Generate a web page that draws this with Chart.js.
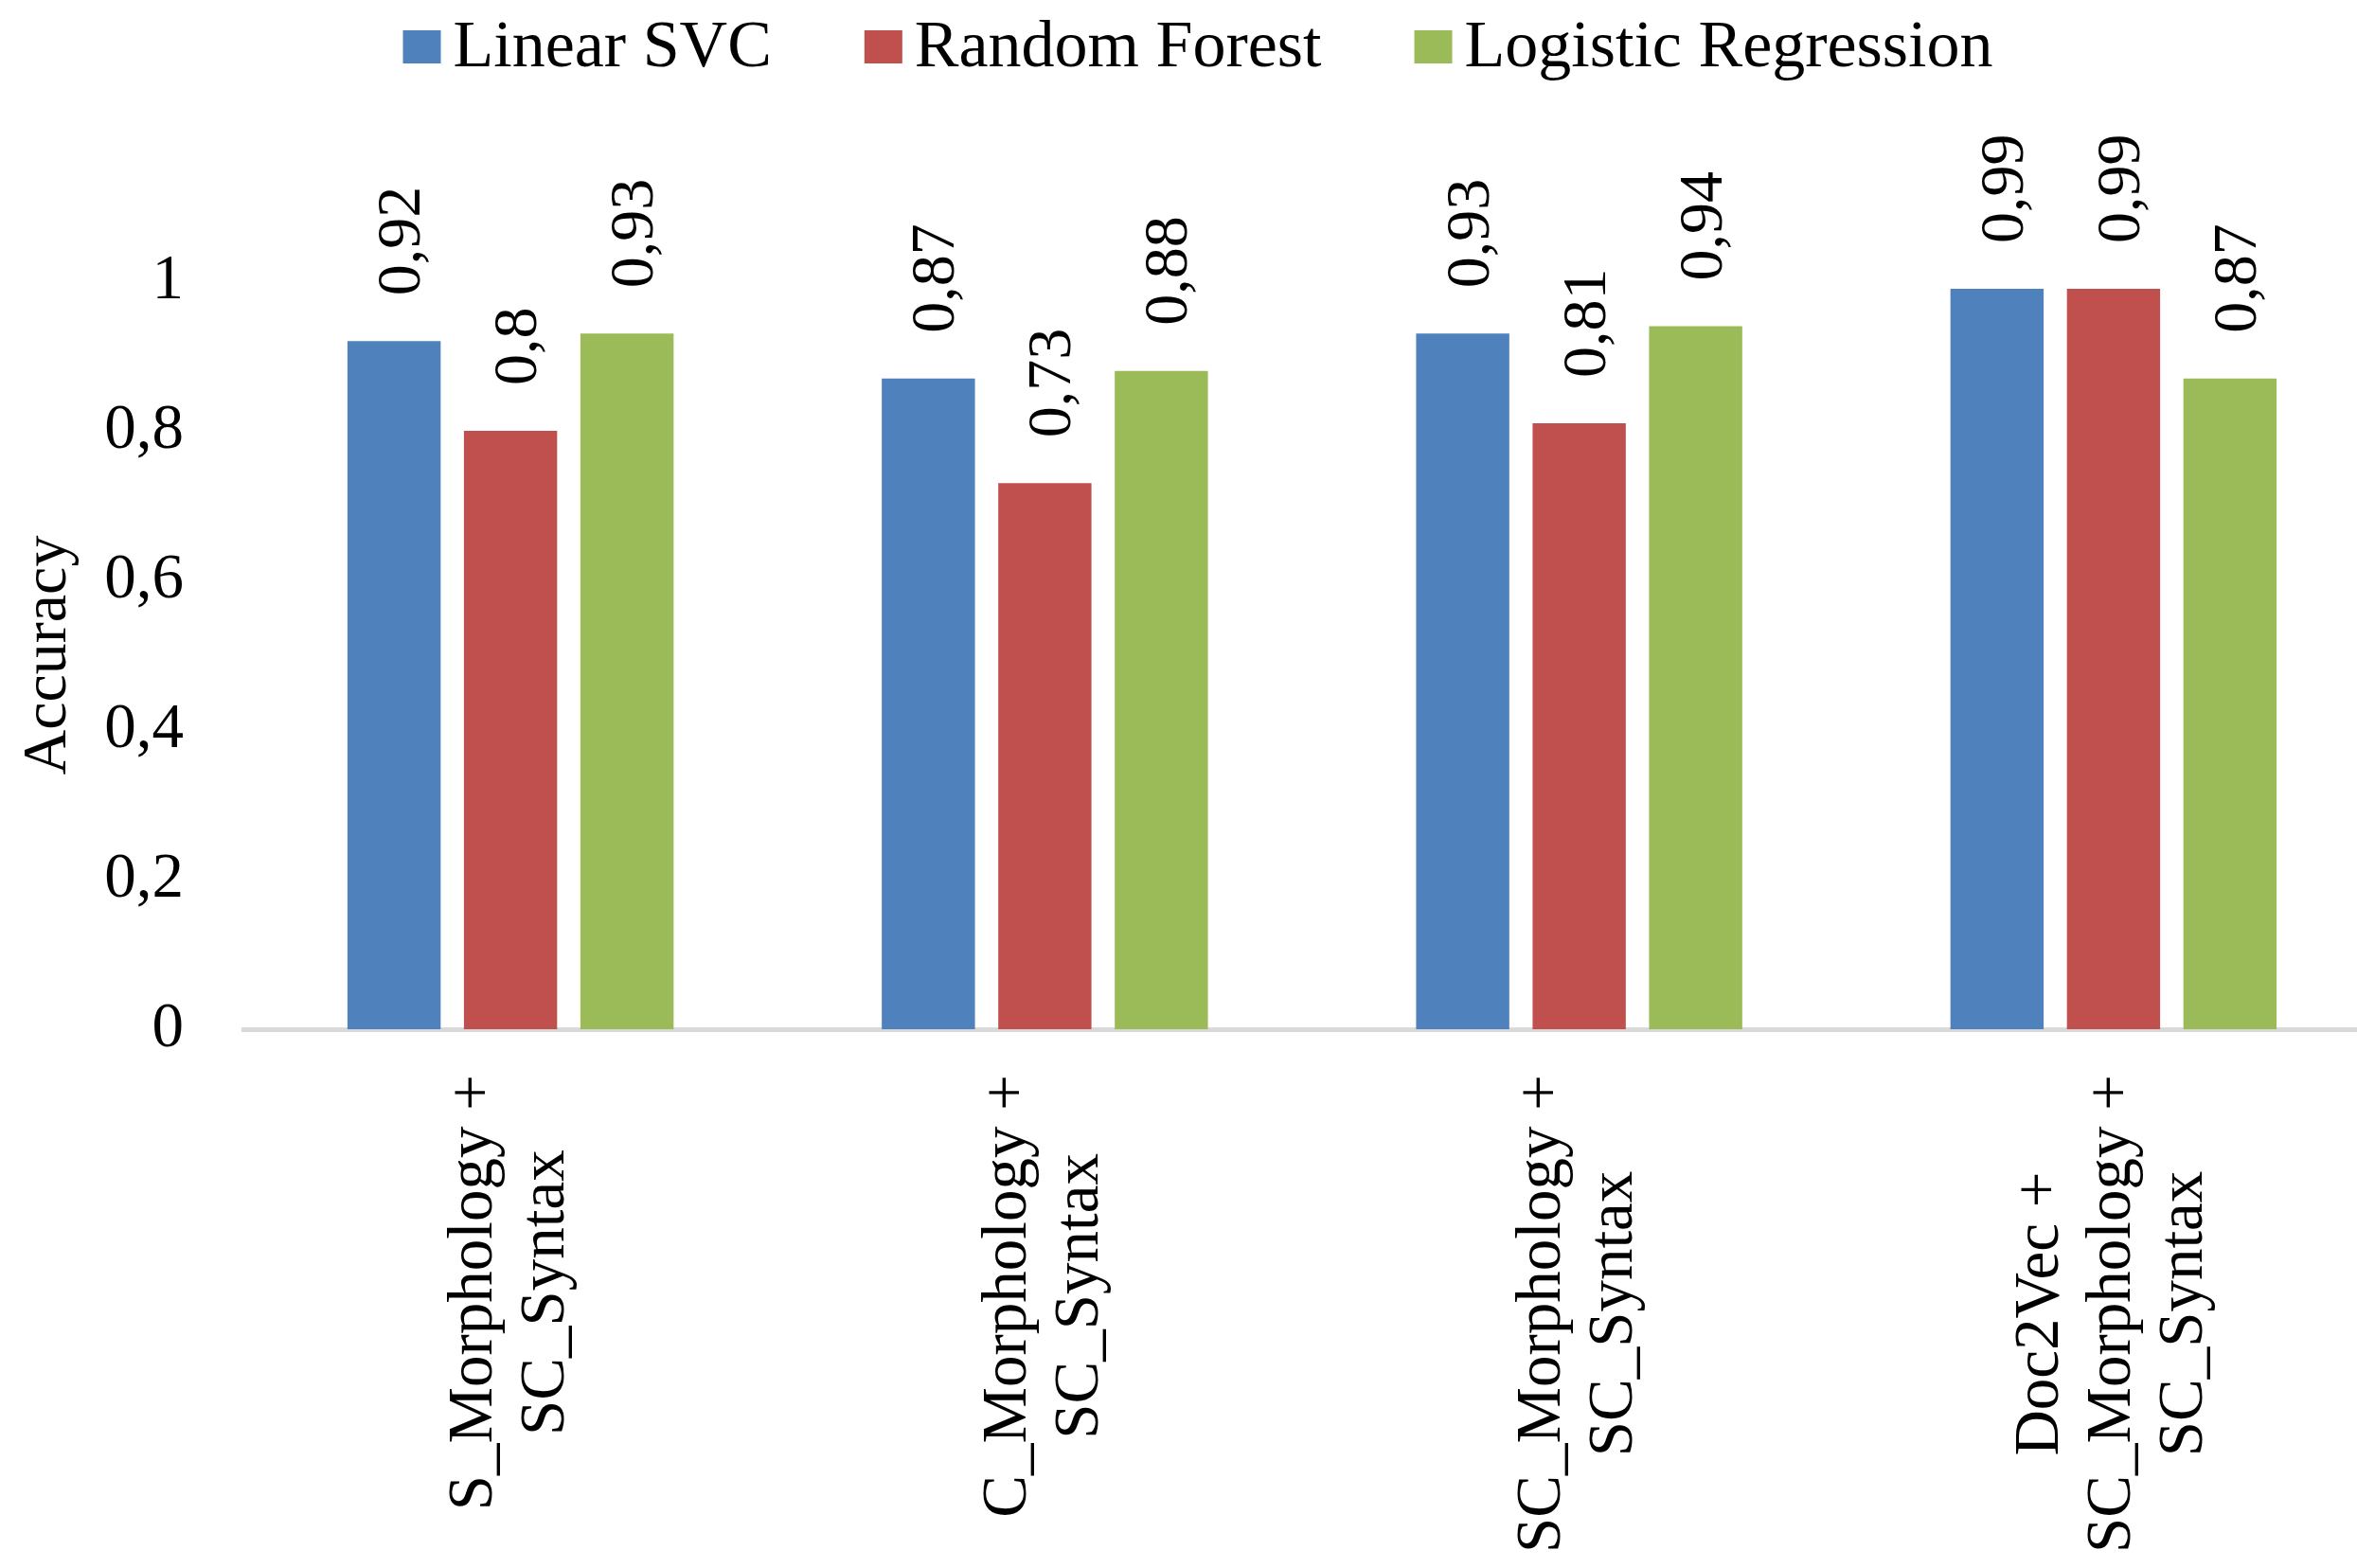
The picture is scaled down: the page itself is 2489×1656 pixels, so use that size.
<!DOCTYPE html>
<html>
<head>
<meta charset="utf-8">
<script src="https://cdn.jsdelivr.net/npm/chart.js@4.4.0/dist/chart.umd.min.js"></script>
<style>
html, body { margin: 0; padding: 0; background: #fff; overflow: hidden; }
#wrap { width: 2514px; height: 1656px; }
</style>
</head>
<body>
<div id="wrap"><canvas id="accChart" width="2514" height="1656"></canvas></div>
<script>
// data
const categories = [
  ['S_Morphology +', 'SC_Syntax'],
  ['C_Morphology +', 'SC_Syntax'],
  ['SC_Morphology +', 'SC_Syntax'],
  ['Doc2Vec +', 'SC_Morphology +', 'SC_Syntax']
];
const seriesNames = ['Linear SVC', 'Random Forest', 'Logistic Regression'];
const linearSvc = [0.92, 0.87, 0.93, 0.99];
const randomForest = [0.8, 0.73, 0.81, 0.99];
const logisticRegression = [0.93, 0.88, 0.94, 0.87];
const yTicks = [0, 0.2, 0.4, 0.6, 0.8, 1];
const colors = ['#4f81bd', '#c0504d', '#9bbb59'];

const FONT = '"Liberation Serif", "Times New Roman", serif';

function comma(v) {
  return String(Math.round(v * 100) / 100).replace('.', ',');
}

// legend drawn by hand so box/text spacing matches Excel
const legendPlugin = {
  id: 'excelLegend',
  afterDraw(chart) {
    const ctx = chart.ctx;
    ctx.save();
    ctx.font = '70px ' + FONT;
    ctx.textBaseline = 'alphabetic';
    ctx.fillStyle = '#000';
    const box = 40, boxH = 35, gap = 13, itemGap = 98;
    const widths = seriesNames.map(n => ctx.measureText(n).width);
    let total = 0;
    widths.forEach((w, i) => { total += box + gap + w + (i < widths.length - 1 ? itemGap : 0); });
    let x = 1265 - total / 2;
    seriesNames.forEach((n, i) => {
      ctx.fillStyle = colors[i];
      ctx.fillRect(x, 32, box, boxH);
      ctx.fillStyle = '#000';
      ctx.fillText(n, x + box + gap, 70);
      x += box + gap + widths[i] + itemGap;
    });
    ctx.restore();
  }
};

// rotated value labels above each bar
const valueLabels = {
  id: 'valueLabels',
  afterDatasetsDraw(chart) {
    const ctx = chart.ctx;
    ctx.save();
    ctx.font = '66px ' + FONT;
    ctx.fillStyle = '#000';
    ctx.textAlign = 'left';
    ctx.textBaseline = 'alphabetic';
    chart.data.datasets.forEach((ds, di) => {
      chart.getDatasetMeta(di).data.forEach((bar, i) => {
        ctx.save();
        ctx.translate(bar.x, bar.y - 48);
        ctx.rotate(-Math.PI / 2);
        ctx.fillText(comma(ds.data[i]), 0, 27);
        ctx.restore();
      });
    });
    ctx.restore();
  }
};

// rotated, centred multi-line category labels
const xLabels = {
  id: 'xLabels',
  afterDraw(chart) {
    const ctx = chart.ctx;
    const xs = chart.scales.x;
    const top = chart.chartArea.bottom + 48;
    const lh = 76;
    ctx.save();
    ctx.font = '67px ' + FONT;
    ctx.fillStyle = '#000';
    ctx.textAlign = 'center';
    ctx.textBaseline = 'middle';
    categories.forEach((lines, i) => {
      const px = xs.getPixelForValue(i);
      const maxW = Math.max(...lines.map(l => ctx.measureText(l).width));
      ctx.save();
      ctx.translate(px, top + maxW / 2);
      ctx.rotate(-Math.PI / 2);
      lines.forEach((l, j) => ctx.fillText(l, 0, (j - (lines.length - 1) / 2) * lh));
      ctx.restore();
    });
    ctx.restore();
  }
};

const seriesData = [linearSvc, randomForest, logisticRegression];

new Chart(document.getElementById('accChart'), {
  type: 'bar',
  data: {
    labels: categories.map(c => c.join(' ')),
    datasets: seriesNames.map((name, i) => ({
      label: name,
      data: seriesData[i],
      backgroundColor: colors[i],
      borderWidth: 0,
      categoryPercentage: 0.654,
      barPercentage: 0.8
    }))
  },
  options: {
    responsive: false,
    animation: false,
    layout: { padding: { top: 297, left: 0, right: 0, bottom: 0 } },
    plugins: {
      legend: { display: false },
      tooltip: { enabled: false }
    },
    scales: {
      x: {
        grid: { display: false },
        border: { display: true, color: '#d9d9d9', width: 5 },
        ticks: { display: false },
        afterFit: s => { s.height = 569; }
      },
      y: {
        min: 0,
        max: 1,
        grid: { display: false },
        border: { display: false },
        afterBuildTicks: s => { s.ticks = yTicks.map(v => ({ value: v })); },
        ticks: {
          padding: 55,
          color: '#000',
          font: { family: FONT, size: 67 },
          callback: v => comma(v)
        },
        title: {
          display: true,
          text: 'Accuracy',
          color: '#000',
          font: { family: FONT, size: 66 },
          padding: { top: 12, bottom: 0 }
        },
        afterFit: s => { s.width = 257; }
      }
    }
  },
  plugins: [legendPlugin, valueLabels, xLabels]
});
</script>
</body>
</html>
